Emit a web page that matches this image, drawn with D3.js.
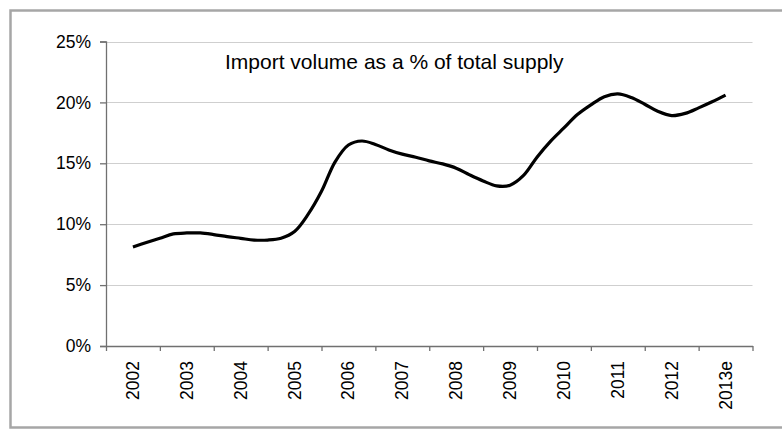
<!DOCTYPE html>
<html>
<head>
<meta charset="utf-8">
<script src="https://cdn.jsdelivr.net/npm/d3@7"></script>
<style>
  html, body { margin: 0; padding: 0; background: #fff; }
  svg { display: block; font-family: Arial, "Liberation Sans", sans-serif; }
</style>
</head>
<body>
<svg id="chart" width="782" height="429"></svg>
<script>
// Year labels along the bottom axis
const categories = ["2002","2003","2004","2005","2006","2007","2008","2009","2010","2011","2012","2013e"];
// Quarterly positions (in years) and import share of total supply (%)
const periods = [
  2002.00, 2002.25, 2002.50, 2002.75,
  2003.00, 2003.25, 2003.50, 2003.75,
  2004.00, 2004.25, 2004.50, 2004.75,
  2005.00, 2005.25, 2005.50, 2005.75,
  2006.00, 2006.25, 2006.50, 2006.75,
  2007.00, 2007.25, 2007.50, 2007.75,
  2008.00, 2008.25, 2008.50, 2008.75,
  2009.00, 2009.25, 2009.50, 2009.75,
  2010.00, 2010.25, 2010.50, 2010.75,
  2011.00, 2011.25, 2011.50, 2011.75,
  2012.00, 2012.25, 2012.50, 2012.75,
  2013.00
];
const importShare = [
  8.13, 8.50, 8.85, 9.20,
  9.28, 9.28, 9.15, 8.98,
  8.84, 8.70, 8.70, 8.85,
  9.40, 10.80, 12.70, 15.10,
  16.50, 16.83, 16.55, 16.10,
  15.75, 15.50, 15.20, 14.95,
  14.60, 14.05, 13.55, 13.15,
  13.20, 14.00, 15.50, 16.80,
  17.90, 19.00, 19.80, 20.47,
  20.70, 20.40, 19.85, 19.25,
  18.92, 19.10, 19.55, 20.05,
  20.60
];
const yTicks = [0, 5, 10, 15, 20, 25];
const title = "Import volume as a % of total supply";

const svg = d3.select("#chart");

// Outer frame
svg.append("rect")
  .attr("x", 10.5).attr("y", 10.5)
  .attr("width", 800).attr("height", 417)
  .attr("fill", "none")
  .attr("stroke", "#a6a6a6")
  .attr("stroke-width", 2.5);

const plot = { left: 106, right: 752.5, top: 41.5, bottom: 346 };

const x = d3.scaleLinear()
  .domain([2001.5, 2001.5 + categories.length])
  .range([plot.left, plot.right]);
const y = d3.scaleLinear().domain([0, 25]).range([plot.bottom, plot.top]);

// Horizontal gridlines
svg.append("g")
  .selectAll("line")
  .data(yTicks.filter(d => d > 0))
  .join("line")
  .attr("x1", plot.left).attr("x2", plot.right)
  .attr("y1", d => Math.round(y(d)) + 0.5)
  .attr("y2", d => Math.round(y(d)) + 0.5)
  .attr("stroke", "#cfcfcf")
  .attr("stroke-width", 1.2);

// Y axis
const yAxis = d3.axisLeft(y)
  .tickValues(yTicks)
  .tickFormat(d => d + "%")
  .tickSize(6)
  .tickPadding(9);
const gy = svg.append("g")
  .attr("transform", `translate(${plot.left},0)`)
  .call(yAxis);
gy.select(".domain").attr("stroke", "#707070").attr("stroke-width", 1.3);
gy.selectAll(".tick line").attr("stroke", "#707070").attr("stroke-width", 1.3);
gy.selectAll(".tick text")
  .attr("fill", "#000")
  .style("font-size", "17.5px")
  .style("font-family", "Arial, 'Liberation Sans', sans-serif");

// X axis: ticks on category boundaries, labels at category centres
const boundaries = d3.range(categories.length + 1).map(i => 2001.5 + i);
const xAxis = d3.axisBottom(x)
  .tickValues(boundaries)
  .tickFormat("")
  .tickSize(5)
  .tickSizeOuter(0);
const gx = svg.append("g")
  .attr("transform", `translate(0,${plot.bottom})`)
  .call(xAxis);
gx.select(".domain").attr("stroke", "#707070").attr("stroke-width", 1.3);
gx.selectAll(".tick line").attr("stroke", "#707070").attr("stroke-width", 1.3);

svg.append("g")
  .selectAll("text")
  .data(categories)
  .join("text")
  .attr("transform", (d, i) => `translate(${x(2002 + i) + 6},${plot.bottom + 15}) rotate(-90)`)
  .attr("text-anchor", "end")
  .style("font-size", "17.5px")
  .attr("fill", "#000")
  .text(d => d);

// Data line
const line = d3.line()
  .x((d, i) => x(periods[i]))
  .y(d => y(d))
  .curve(d3.curveCatmullRom.alpha(0.5));

svg.append("path")
  .datum(importShare)
  .attr("d", line)
  .attr("fill", "none")
  .attr("stroke", "#000")
  .attr("stroke-width", 3.2)
  .attr("stroke-linejoin", "round");

// Title inside the plot
svg.append("text")
  .attr("x", 225)
  .attr("y", 69)
  .style("font-size", "21px")
  .attr("fill", "#000")
  .text(title);
</script>
</body>
</html>
